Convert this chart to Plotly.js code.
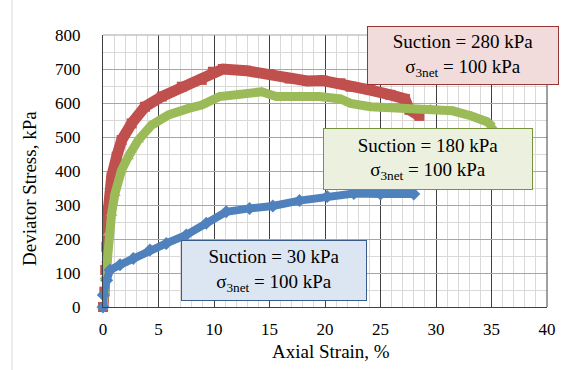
<!DOCTYPE html>
<html>
<head>
<meta charset="utf-8">
<script src="https://cdn.plot.ly/plotly-3.0.1.min.js"></script>
<style>html,body{margin:0;padding:0;background:#fff;}#chart{width:569px;height:370px;}</style>
</head>
<body>
<div id="chart"></div>
<script>
// Suction = 280 kPa
const redX = [0, 0.12, 0.2, 0.3, 0.42, 0.48, 0.78, 1.23, 1.68, 2.58, 3.78, 5.3, 7.1, 8.9, 9.9, 10.8, 12.9, 15.0, 16.8, 18.4, 19.8, 21.4, 22.3, 24.1, 25.9, 27.2, 27.6, 28.5];
const redY = [0, 45, 109, 177, 226, 285, 383, 442, 491, 540, 589, 619, 648, 668, 692, 700, 695, 685, 672, 665, 666, 658, 648, 638, 624, 612, 580, 562];
// Suction = 180 kPa
const greenX = [0, 0.1, 0.18, 0.33, 0.48, 0.78, 1.08, 1.68, 2.28, 3.18, 4.38, 5.9, 7.7, 8.9, 10.5, 12.3, 14.3, 15.6, 17.7, 19.5, 21.4, 22.3, 24.1, 26.5, 29.5, 31.5, 33.2, 34.6, 35.1];
const greenY = [0, 40, 89, 138, 217, 276, 334, 403, 442, 491, 535, 565, 584, 594, 619, 625, 633, 619, 620, 619, 612, 599, 589, 584, 582, 577, 562, 545, 530];
// Suction = 30 kPa
const blueX = [0, 0.03, 0.33, 0.63, 1.53, 2.73, 4.23, 5.7, 7.5, 9.3, 11.1, 13.2, 15.3, 17.7, 20.2, 22.6, 25.0, 28.0];
const blueY = [0, 35, 79, 109, 124, 143, 168, 187, 212, 246, 280, 290, 297, 313, 325, 334, 332, 332];

const labels = [
  "Suction = 280 kPa<br>σ<sub>3net</sub> = 100 kPa",
  "Suction = 180 kPa<br>σ<sub>3net</sub> = 100 kPa",
  "Suction = 30 kPa<br>σ<sub>3net</sub> = 100 kPa"
];
const xTitle = "Axial Strain, %";
const yTitle = "Deviator Stress, kPa";

const font = "Liberation Serif";

function tr(x, y, color, symbol, lw, ms) {
  return {
    x: x, y: y, type: 'scatter', mode: 'lines+markers', cliponaxis: false,
    line: {color: color, width: lw},
    marker: {color: color, symbol: symbol, size: ms},
    showlegend: false, hoverinfo: 'skip'
  };
}

const data = [
  tr(redX, redY, '#c0504d', 'square', 11, 10),
  tr(greenX, greenY, '#9bbb59', 'triangle-up', 9, 10),
  tr(blueX, blueY, '#4f81bd', 'diamond', 8, 10)
];

const layout = {
  width: 569, height: 370,
  margin: {l: 103, r: 22, t: 35, b: 63},
  paper_bgcolor: '#fff', plot_bgcolor: '#fff',
  font: {family: font, size: 17, color: '#000'},
  xaxis: {
    range: [0, 40], dtick: 5, tick0: 0, showgrid: true, gridcolor: '#404040', gridwidth: 1,
    minor: {dtick: 1, showgrid: true, gridcolor: '#d9d9d9', gridwidth: 1},
    showline: true, linecolor: '#404040', linewidth: 1, zeroline: false,
    ticks: '', ticklabelstandoff: 7,
    tickfont: {family: font, size: 17, color: '#000'}
  },
  yaxis: {
    range: [0, 800], dtick: 100, tick0: 0, showgrid: true, gridcolor: '#a6a6a6', gridwidth: 1,
    minor: {dtick: 50, showgrid: true, gridcolor: '#d9d9d9', gridwidth: 1},
    showline: true, linecolor: '#404040', linewidth: 1, zeroline: false,
    ticks: '', ticklabelstandoff: 18,
    tickfont: {family: font, size: 17, color: '#000'}
  },
  shapes: [
    {type: 'line', xref: 'paper', yref: 'paper', x0: 1, x1: 1, y0: 0, y1: 1, line: {color: '#404040', width: 1}},
    {type: 'line', xref: 'paper', yref: 'paper', x0: 0, x1: 1, y0: 1, y1: 1, line: {color: '#a6a6a6', width: 1}},
    {type: 'line', xref: 'paper', yref: 'paper', x0: -0.205, x1: -0.205, y0: -0.24, y1: 1.14, line: {color: '#d9d9d9', width: 1}}
  ],
  annotations: [
    {xref: 'paper', yref: 'paper', x: 0.5135, y: -0.1618, xanchor: 'center', yanchor: 'middle',
     text: xTitle, showarrow: false, font: {family: font, size: 19, color: '#000'}},
    {xref: 'paper', yref: 'paper', x: -0.1644, y: 0.434, xanchor: 'center', yanchor: 'middle',
     text: yTitle, textangle: -90, showarrow: false, font: {family: font, size: 19, color: '#000'}},
    {xref: 'paper', yref: 'paper', x: 0.8108, y: 0.9246, xanchor: 'center', yanchor: 'middle',
     text: labels[0], showarrow: false, width: 190, height: 57, borderpad: 0,
     bgcolor: '#f2dcdb', bordercolor: '#953735', borderwidth: 1,
     font: {family: font, size: 19, color: '#000'}},
    {xref: 'paper', yref: 'paper', x: 0.732, y: 0.544, xanchor: 'center', yanchor: 'middle',
     text: labels[1], showarrow: false, width: 208, height: 60, borderpad: 0,
     bgcolor: '#ebf1de', bordercolor: '#77933c', borderwidth: 1,
     font: {family: font, size: 19, color: '#000'}},
    {xref: 'paper', yref: 'paper', x: 0.385, y: 0.134, xanchor: 'center', yanchor: 'middle',
     text: labels[2], showarrow: false, width: 184, height: 59, borderpad: 0,
     bgcolor: '#dce6f2', bordercolor: '#385d8a', borderwidth: 1,
     font: {family: font, size: 19, color: '#000'}}
  ]
};

Plotly.newPlot('chart', data, layout, {displayModeBar: false, staticPlot: true});
</script>
</body>
</html>
